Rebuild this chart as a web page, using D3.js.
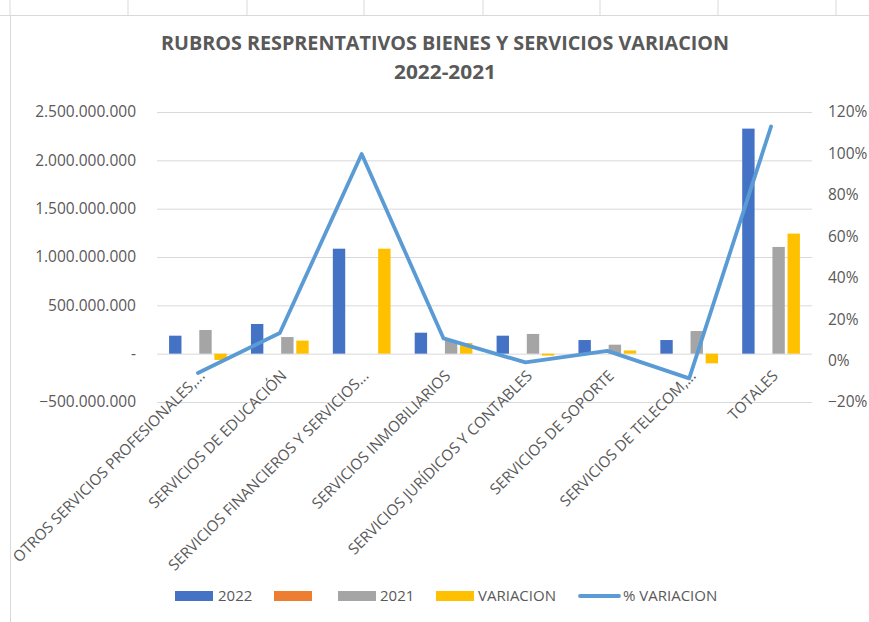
<!DOCTYPE html>
<html>
<head>
<meta charset="utf-8">
<script src="https://cdn.jsdelivr.net/npm/d3@7"></script>
<style>
  body { margin: 0; background: #fff; }
  text { font-family: "Open Sans", sans-serif; fill: #595959; }
</style>
</head>
<body>
<svg id="chart" width="869" height="622"></svg>
<script>
// data
const categories = [
  "OTROS SERVICIOS PROFESIONALES,...",
  "SERVICIOS DE EDUCACIÓN",
  "SERVICIOS FINANCIEROS Y SERVICIOS...",
  "SERVICIOS INMOBILIARIOS",
  "SERVICIOS JURÍDICOS Y CONTABLES",
  "SERVICIOS DE SOPORTE",
  "SERVICIOS DE TELECOM,...",
  "TOTALES"
];
const v2022 = [186e6, 307e6, 1086e6, 217e6, 186e6, 141e6, 141e6, 2328e6];
const vEmpty = [null, null, null, null, null, null, null, null];
const v2021 = [245e6, 172e6, 0, 131e6, 204e6, 93e6, 234e6, 1104e6];
const variacion = [-65e6, 135e6, 1086e6, 110e6, -20e6, 33e6, -100e6, 1242e6];
const pctVariacion = [-0.06, 0.133, 0.997, 0.107, -0.009, 0.047, -0.086, 1.13];

const leftTicks = [-500e6, 0, 500e6, 1000e6, 1500e6, 2000e6, 2500e6];
const rightTicks = [-0.2, 0, 0.2, 0.4, 0.6, 0.8, 1.0, 1.2];

const seriesKeys = ["2022", "", "2021", "VARIACION"];
const seriesValues = [v2022, vEmpty, v2021, variacion];
const colors = ["#4472C4", "#ED7D31", "#A5A5A5", "#FFC000"];
const lineColor = "#5B9BD5";

const svg = d3.select("#chart");
const plot = { left: 157, right: 812, top: 112, bottom: 402 };

// excel sheet grid bits + chart border
const grey = "#d9d9d9";
[10, 128, 247, 364, 483, 600, 718, 836].forEach(x => {
  svg.append("line").attr("x1", x).attr("x2", x).attr("y1", 0).attr("y2", 15)
    .attr("stroke", grey);
});
svg.append("line").attr("x1", 0).attr("x2", 869).attr("y1", 15.5).attr("y2", 15.5).attr("stroke", grey);
svg.append("line").attr("x1", 10.5).attr("x2", 10.5).attr("y1", 15).attr("y2", 622).attr("stroke", grey);

// title
svg.append("text").attr("x", 445).attr("y", 50).attr("text-anchor", "middle")
  .attr("font-size", 20).attr("font-weight", "bold")
  .attr("textLength", 568).attr("lengthAdjust", "spacingAndGlyphs")
  .text("RUBROS RESPRENTATIVOS BIENES Y SERVICIOS VARIACION");
svg.append("text").attr("x", 445).attr("y", 79).attr("text-anchor", "middle")
  .attr("font-size", 20).attr("font-weight", "bold")
  .attr("textLength", 102).attr("lengthAdjust", "spacingAndGlyphs")
  .text("2022-2021");

// scales
const x = d3.scaleBand().domain(categories).range([plot.left, plot.right]);
const xs = d3.scaleBand().domain(seriesKeys).range([0, x.bandwidth()])
  .paddingInner(0.18).paddingOuter(0.8);
const y = d3.scaleLinear().domain([-500e6, 2500e6]).range([plot.bottom, plot.top]);
const y2 = d3.scaleLinear().domain([-0.2, 1.2]).range([plot.bottom, plot.top]);

const es = d3.formatLocale({ decimal: ",", thousands: ".", grouping: [3], currency: ["$", ""] });
const fmtNum = v => v === 0 ? "-" : es.format(",.0f")(v);

// gridlines
svg.append("g").attr("transform", `translate(${plot.left},0)`)
  .call(d3.axisLeft(y).tickValues(leftTicks).tickSize(-(plot.right - plot.left)).tickFormat(""))
  .call(g => g.select(".domain").remove())
  .call(g => g.selectAll("line").attr("stroke", grey));

// left axis
svg.append("g").attr("transform", `translate(${plot.left},0)`)
  .call(d3.axisLeft(y).tickValues(leftTicks).tickSize(0).tickPadding(21).tickFormat(fmtNum))
  .call(g => g.select(".domain").remove())
  .call(g => g.selectAll("text").attr("font-size", 15.5).attr("fill", "#595959")
    .attr("font-family", "Open Sans, sans-serif"));

// right axis
svg.append("g").attr("transform", `translate(${plot.right},0)`)
  .call(d3.axisRight(y2).tickValues(rightTicks).tickSize(0).tickPadding(16).tickFormat(d3.format(".0%")))
  .call(g => g.select(".domain").remove())
  .call(g => g.selectAll("text").attr("font-size", 15.5).attr("fill", "#595959")
    .attr("font-family", "Open Sans, sans-serif"));

// bars
seriesKeys.forEach((key, si) => {
  svg.append("g").selectAll("rect")
    .data(categories.map((c, i) => ({ c, v: seriesValues[si][i] })).filter(d => d.v != null))
    .join("rect")
    .attr("x", d => x(d.c) + xs(key))
    .attr("width", xs.bandwidth())
    .attr("y", d => y(Math.max(0, d.v)))
    .attr("height", d => Math.abs(y(d.v) - y(0)))
    .attr("fill", colors[si]);
});

// % line
const line = d3.line()
  .x((d, i) => x(categories[i]) + x.bandwidth() / 2)
  .y(d => y2(d));
svg.append("path").datum(pctVariacion)
  .attr("d", line)
  .attr("fill", "none")
  .attr("stroke", lineColor)
  .attr("stroke-width", 3.8)
  .attr("stroke-linejoin", "round")
  .attr("stroke-linecap", "round");

// category labels
svg.append("g").selectAll("text")
  .data(categories)
  .join("text")
  .attr("transform", d => `translate(${x(d) + x.bandwidth() / 2 + 4},373) rotate(-45)`)
  .attr("text-anchor", "end")
  .attr("dy", "0.35em")
  .attr("font-size", 15.2)
  .text(d => d);

// legend
const legendY = 596;
const legendItems = [
  { label: "2022", color: colors[0], x: 175, tx: 218 },
  { label: "", color: colors[1], x: 274, tx: 317 },
  { label: "2021", color: colors[2], x: 338, tx: 380 },
  { label: "VARIACION", color: colors[3], x: 436, tx: 478 },
];
legendItems.forEach(d => {
  svg.append("rect").attr("x", d.x).attr("y", legendY - 5).attr("width", 38).attr("height", 10)
    .attr("fill", d.color);
  svg.append("text").attr("x", d.tx).attr("y", legendY).attr("dy", "0.35em")
    .attr("font-size", 15).text(d.label);
});
svg.append("line").attr("x1", 580).attr("x2", 619).attr("y1", legendY).attr("y2", legendY)
  .attr("stroke", lineColor).attr("stroke-width", 3.8).attr("stroke-linecap", "round");
svg.append("text").attr("x", 623).attr("y", legendY).attr("dy", "0.35em")
  .attr("font-size", 15).text("% VARIACION");
</script>
</body>
</html>
